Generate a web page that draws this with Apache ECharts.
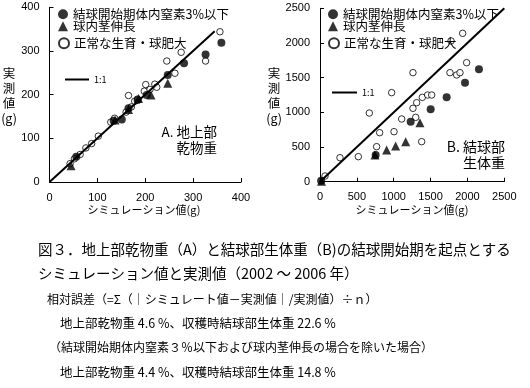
<!DOCTYPE html>
<html><head><meta charset="utf-8">
<script src="https://cdn.jsdelivr.net/npm/echarts@6/dist/echarts.min.js"></script>
<style>html,body{margin:0;padding:0;background:#fff}#c{width:530px;height:388px}</style>
</head><body><div id="c"></div>
<script>
// Series names
const nameLowN = '結球開始期体内窒素3%以下';
const nameStem = '球内茎伸長';
const nameNormal = '正常な生育・球肥大';
const nameOne = '1:1';

// Chart A: above-ground dry weight (simulated, measured) in g
const aLowN = [[56,58],[134,140],[151,143],[165,169],[184,188],[203,199],[247,245],[281,272],[326,292],[359,319]];
const aStem = [[45,37],[137,142],[165,166],[186,191],[212,199],[247,226]];
const aNormal = [[43,42],[52,53],[64,63],[76,78],[88,88],[102,105],[128,137],[136,146],[160,160],[165,198],[171,172],[178,185],[184,190],[198,208],[201,223],[210,212],[220,224],[224,217],[245,277],[262,249],[275,297],[326,277],[356,344]];
const aLine = [[0,0],[345,345]];
const aTicks = [0,100,200,300,400];

// Chart B: head fresh weight (simulated, measured) in g
const bLowN = [[15,15],[755,385],[1230,865],[1501,1043],[1718,1216],[1967,1428],[2156,1620]];
const bStem = [[20,5],[746,385],[904,457],[1026,514],[1162,577],[1356,851]];
const bNormal = [[68,82],[271,346],[520,361],[669,990],[768,505],[809,707],[972,1284],[1004,721],[1108,904],[1261,1572],[1261,1058],[1298,928],[1311,1139],[1388,1216],[1460,1250],[1515,1250],[1379,577],[1777,2029],[1763,1572],[1854,1539],[1899,1572],[1935,2139],[1989,1716]];
const bLine = [[0,0],[2500,2500]];
const bTicks = [0,500,1000,1500,2000,2500];

const FONT = '"Noto Sans CJK JP", sans-serif';
const chart = echarts.init(document.getElementById('c'), null, {renderer:'canvas'});

function axis(gi, ticks) {
  return {
    gridIndex: gi, type:'value', min:ticks[0], max:ticks[ticks.length-1], interval:ticks[1]-ticks[0],
    axisLine:{show:true, onZero:false, lineStyle:{color:'#000', width:1}},
    axisTick:{show:true, inside:true, length:4, lineStyle:{color:'#000'}},
    splitLine:{show:false},
    axisLabel:{color:'#000', fontSize:11, fontFamily:'"Liberation Sans", Arial, sans-serif', margin:10,
      formatter: v => String(v)}
  };
}
function legendItem(name, left, top, icon, w, h, fs) {
  return {
    data:[{name:name, icon:icon}], left:left, top:top, orient:'vertical',
    itemWidth:w, itemHeight:h, selectedMode:false, padding:0,
    textStyle:{color:'#000', fontSize:fs, fontFamily:FONT}
  };
}
const open = {color:'#fff', borderColor:'#000', borderWidth:1};
const solid = {color:'#000'};

function seriesFor(gi, lowN, stem, normal, line) {
  return [
    {name:nameOne, type:'line', xAxisIndex:gi, yAxisIndex:gi, data:line, symbol:'none', lineStyle:{color:'#000', width:2}, itemStyle:{color:'#000'}, silent:true},
    {name:nameNormal, type:'scatter', xAxisIndex:gi, yAxisIndex:gi, data:normal, symbol:'circle', symbolSize:6.5, itemStyle:open},
    {name:nameLowN, type:'scatter', xAxisIndex:gi, yAxisIndex:gi, data:lowN, symbol:'circle', symbolSize:8, itemStyle:solid},
    {name:nameStem, type:'scatter', xAxisIndex:gi, yAxisIndex:gi, data:stem, symbol:'triangle', symbolSize:9, itemStyle:solid}
  ];
}

const tx = (text, x, y, fs, align, lh) => ({
  type:'text', x:x, y:y,
  style:{text:text, fill:'#000', font: fs + 'px ' + FONT, textAlign:align||'left', textVerticalAlign:'middle', lineHeight: lh}
});

const option = {
  animation:false,
  grid:[
    {left:49.5, top:7.3, width:191.5, height:174.7},
    {left:320, top:8.3, width:184.3, height:173.4}
  ],
  xAxis:[axis(0,aTicks), axis(1,bTicks)],
  yAxis:[axis(0,aTicks), axis(1,bTicks)],
  legend:[
    legendItem(nameLowN, 58, 8, 'circle', 10, 10, 12.5),
    legendItem(nameStem, 58, 20, 'triangle', 10, 10, 12.5),
    legendItem(nameNormal, 58, 37, 'circle', 10, 10, 12.5),
    legendItem(nameOne, 65, 75, 'rect', 24, 2, 9),
    legendItem(nameLowN, 328, 8, 'circle', 10, 10, 12.5),
    legendItem(nameStem, 328, 20, 'triangle', 10, 10, 12.5),
    legendItem(nameNormal, 328, 37, 'circle', 10, 10, 12.5),
    legendItem(nameOne, 332, 88, 'rect', 25, 2, 9)
  ],
  series: seriesFor(0, aLowN, aStem, aNormal, aLine).concat(seriesFor(1, bLowN, bStem, bNormal, bLine)),
  graphic:[
    tx('実\n測\n値\n(g)', 9, 96, 12.5, 'center', 15),
    tx('実\n測\n値\n(g)', 274, 96, 12.5, 'center', 15),
    tx('シミュレーション値(g)', 144, 210, 11, 'center'),
    tx('シミュレーション値(g)', 412, 210, 11, 'center'),
    tx('A. 地上部', 217, 132, 13.5, 'right'),
    tx('乾物重', 217, 148, 13.5, 'right'),
    tx('B. 結球部', 505, 147, 14, 'right'),
    tx('生体重', 505, 163, 14, 'right'),
    tx('図３．地上部乾物重（A）と結球部生体重（B)の結球開始期を起点とする', 38, 249, 14.5),
    tx('シミュレーション値と実測値（2002 ～ 2006 年）', 38, 273, 14.5),
    tx('相対誤差（=Σ（｜シミュレート値－実測値｜/実測値）÷ｎ）', 47, 299, 12),
    tx('地上部乾物重 4.6 %、収穫時結球部生体重 22.6 %', 60, 323, 12.5),
    tx('（結球開始期体内窒素３％以下および球内茎伸長の場合を除いた場合）', 49, 347, 12),
    tx('地上部乾物重 4.4 %、収穫時結球部生体重 14.8 %', 60, 372, 12.5)
  ]
};
chart.setOption(option);
</script></body></html>
